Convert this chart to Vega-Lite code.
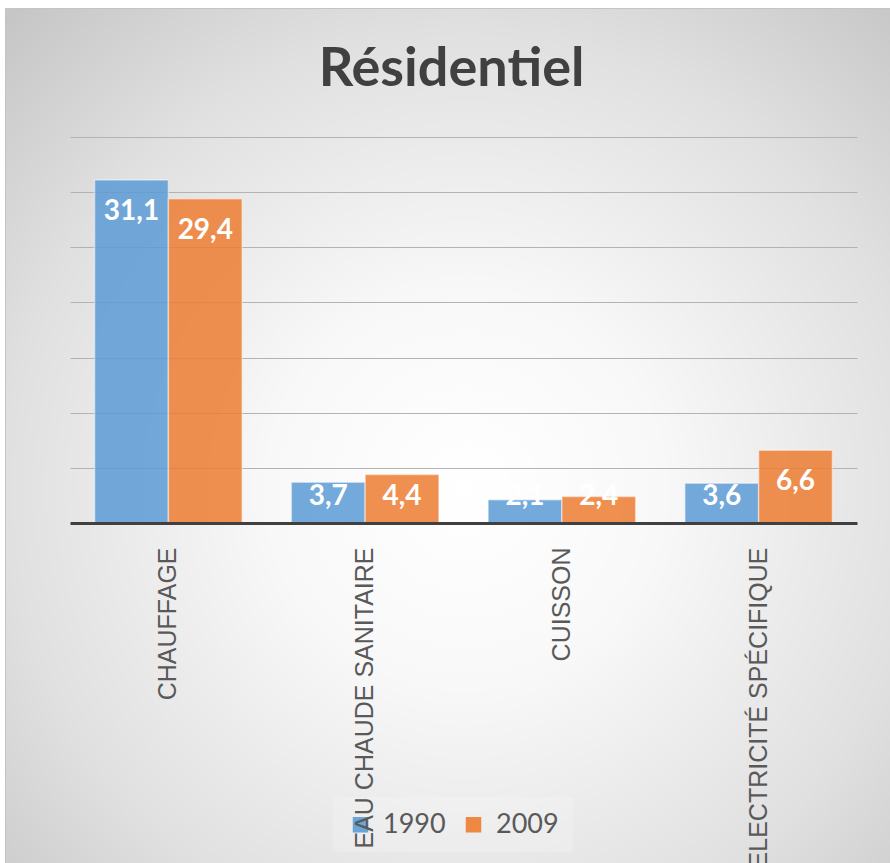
{
  "$schema": "https://vega.github.io/schema/vega-lite/v6.json",
  "width": 885,
  "height": 855,
  "autosize": {"type": "none"},
  "padding": {"left": 5, "top": 8, "right": 0, "bottom": 0},
  "background": "white",
  "view": {
    "fill": {
      "gradient": "radial",
      "x1": 0.52, "y1": 0.56, "r1": 0,
      "x2": 0.52, "y2": 0.56, "r2": 0.74,
      "stops": [
        {"offset": 0, "color": "#ffffff"},
        {"offset": 0.3, "color": "#f8f8f8"},
        {"offset": 0.7, "color": "#e0e0e0"},
        {"offset": 1, "color": "#c6c6c6"}
      ]
    },
    "stroke": "#c4c4c4",
    "strokeWidth": 1
  },
  "title": {
    "text": "Résidentiel",
    "anchor": "middle",
    "frame": "group",
    "font": "Lato",
    "fontSize": 54,
    "fontWeight": "bold",
    "color": "#404040",
    "offset": -132,
    "baseline": "alphabetic",
    "dx": 4
  },
  "config": {
    "locale": {"number": {"decimal": ",", "thousands": " ", "grouping": [3], "currency": ["", " €"]}}
  },
  "data": {
    "values": [
      {"usage": "CHAUFFAGE", "annee": "1990", "valeur": 31.1},
      {"usage": "CHAUFFAGE", "annee": "2009", "valeur": 29.4},
      {"usage": "EAU CHAUDE SANITAIRE", "annee": "1990", "valeur": 3.7},
      {"usage": "EAU CHAUDE SANITAIRE", "annee": "2009", "valeur": 4.4},
      {"usage": "CUISSON", "annee": "1990", "valeur": 2.1},
      {"usage": "CUISSON", "annee": "2009", "valeur": 2.4},
      {"usage": "ELECTRICITÉ SPÉCIFIQUE", "annee": "1990", "valeur": 3.6},
      {"usage": "ELECTRICITÉ SPÉCIFIQUE", "annee": "2009", "valeur": 6.6}
    ]
  },
  "encoding": {
    "x": {
      "field": "usage",
      "type": "nominal",
      "sort": ["CHAUFFAGE", "EAU CHAUDE SANITAIRE", "CUISSON", "ELECTRICITÉ SPÉCIFIQUE"],
      "scale": {"range": [65, 852], "paddingInner": 0.25, "paddingOuter": 0.125},
      "axis": {
        "title": null,
        "labelAngle": -90,
        "labelFont": "Liberation Sans",
        "labelFontSize": 25,
        "labelColor": "#595959",
        "labelPadding": 24,
        "ticks": false,
        "tickSize": 0,
        "domainColor": "#404040",
        "domainWidth": 3,
        "offset": -340,
        "labelLimit": 1000,
        "labelOverlap": false,
        "zindex": 1
      }
    },
    "xOffset": {"field": "annee", "type": "nominal", "scale": {"paddingInner": 0}}
  },
  "layer": [
    {
      "mark": {"type": "bar", "fillOpacity": 0.85, "stroke": "white", "strokeOpacity": 0.45, "strokeWidth": 1.5},
      "encoding": {
        "y": {
          "field": "valeur",
          "type": "quantitative",
          "scale": {"domain": [0, 35], "range": [515, 129], "nice": false},
          "axis": {
            "title": null,
            "labels": false,
            "ticks": false,
            "domain": false,
            "grid": true,
            "values": [5, 10, 15, 20, 25, 30, 35],
            "gridColor": "#b3b3b3",
            "gridWidth": 1.2
          }
        },
        "color": {
          "field": "annee",
          "type": "nominal",
          "scale": {"range": ["#5B9BD5", "#ED7D31"]},
          "legend": {
            "title": null,
            "orient": "none",
            "legendX": 328,
            "legendY": 789,
            "direction": "horizontal",
            "symbolType": "square",
            "symbolSize": 240,
            "symbolStrokeWidth": 0,
            "symbolOpacity": 0.9,
            "labelFont": "Lato",
            "labelFontSize": 27,
            "labelColor": "#595959",
            "labelOffset": 9,
            "columnPadding": 14,
            "padding": 14,
            "fillColor": "rgba(255,255,255,0.18)"
          }
        }
      }
    },
    {
      "transform": [{"filter": "datum.valeur >= 5"}],
      "mark": {"type": "text", "dy": 32, "baseline": "middle", "font": "Lato", "fontWeight": "bold", "fontSize": 28, "fill": "white"},
      "encoding": {
        "y": {"field": "valeur", "type": "quantitative"},
        "text": {"field": "valeur", "type": "quantitative", "format": ".1f"}
      }
    },
    {
      "transform": [{"filter": "datum.valeur < 5"}],
      "mark": {"type": "text", "baseline": "middle", "font": "Lato", "fontWeight": "bold", "fontSize": 28, "fill": "white"},
      "encoding": {
        "y": {"datum": 2.4, "type": "quantitative"},
        "text": {"field": "valeur", "type": "quantitative", "format": ".1f"}
      }
    }
  ]
}
